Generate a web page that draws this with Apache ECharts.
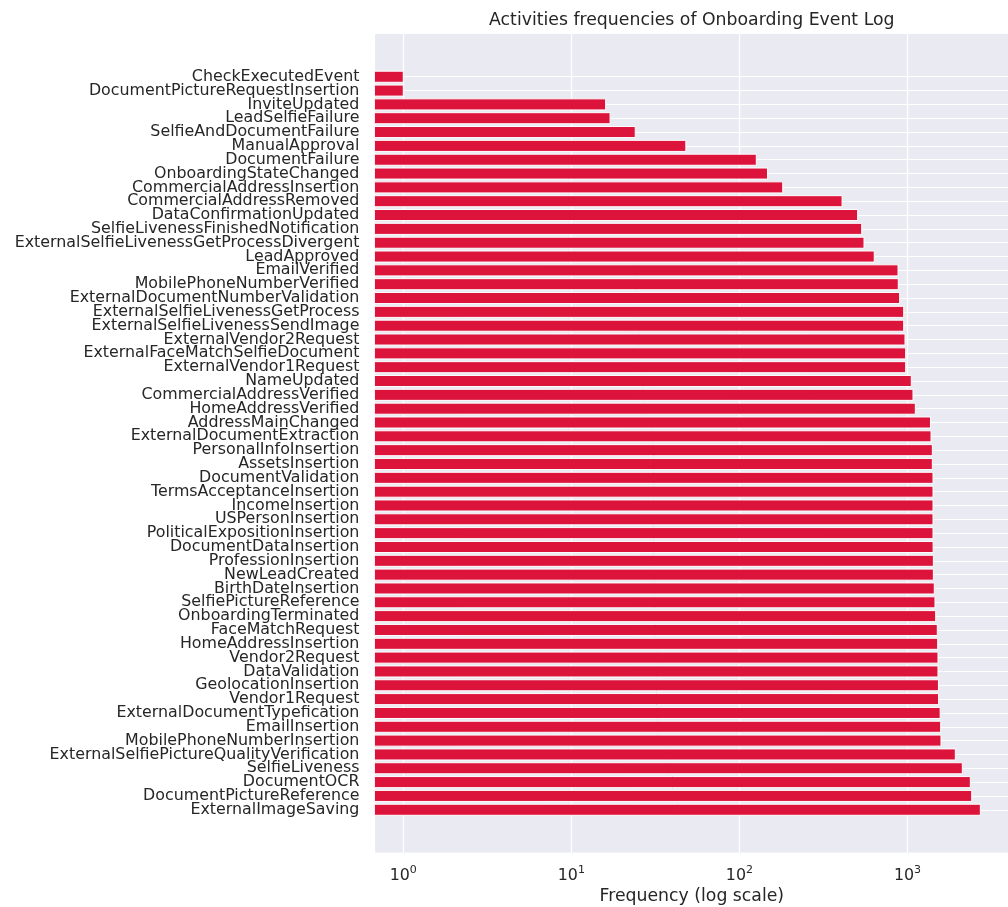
<!DOCTYPE html>
<html>
<head>
<meta charset="utf-8">
<title>Activities frequencies of Onboarding Event Log</title>
<script src="https://cdn.jsdelivr.net/npm/echarts@6/dist/echarts.min.js"></script>
<style>
  html, body { margin: 0; padding: 0; background: #ffffff; }
  #chart { width: 1008px; height: 907px; }
</style>
</head>
<body>
<div id="chart"></div>
<script>
// Activity names, top to bottom
const activities = [
  'CheckExecutedEvent', 'DocumentPictureRequestInsertion', 'InviteUpdated', 'LeadSelfieFailure',
  'SelfieAndDocumentFailure', 'ManualApproval', 'DocumentFailure', 'OnboardingStateChanged',
  'CommercialAddressInsertion', 'CommercialAddressRemoved', 'DataConfirmationUpdated',
  'SelfieLivenessFinishedNotification', 'ExternalSelfieLivenessGetProcessDivergent', 'LeadApproved',
  'EmailVerified', 'MobilePhoneNumberVerified', 'ExternalDocumentNumberValidation',
  'ExternalSelfieLivenessGetProcess', 'ExternalSelfieLivenessSendImage', 'ExternalVendor2Request',
  'ExternalFaceMatchSelfieDocument', 'ExternalVendor1Request', 'NameUpdated', 'CommercialAddressVerified',
  'HomeAddressVerified', 'AddressMainChanged', 'ExternalDocumentExtraction', 'PersonalInfoInsertion',
  'AssetsInsertion', 'DocumentValidation', 'TermsAcceptanceInsertion', 'IncomeInsertion',
  'USPersonInsertion', 'PoliticalExpositionInsertion', 'DocumentDataInsertion', 'ProfessionInsertion',
  'NewLeadCreated', 'BirthDateInsertion', 'SelfiePictureReference', 'OnboardingTerminated',
  'FaceMatchRequest', 'HomeAddressInsertion', 'Vendor2Request', 'DataValidation', 'GeolocationInsertion',
  'Vendor1Request', 'ExternalDocumentTypefication', 'EmailInsertion', 'MobilePhoneNumberInsertion',
  'ExternalSelfiePictureQualityVerification', 'SelfieLiveness', 'DocumentOCR', 'DocumentPictureReference',
  'ExternalImageSaving'
];

// Number of occurrences of each activity
const frequencies = [
  1, 1, 16, 17, 24, 48, 126, 147, 181, 408, 505, 534, 551, 634,
  878, 881, 898, 949, 949, 966, 975, 975, 1053, 1078, 1113,
  1370, 1380, 1405, 1405, 1418, 1418, 1418, 1418, 1418, 1420, 1425, 1425,
  1443, 1457, 1471, 1504, 1512, 1518, 1518, 1528, 1531,
  1564, 1575, 1582, 1925, 2118, 2364, 2410, 2712
];

const TITLE = 'Activities frequencies of Onboarding Event Log';
const X_NAME = 'Frequency (log scale)';

const FONT = "'DejaVu Sans', 'Liberation Sans', sans-serif";
const TEXT = '#262626';
const BAR = '#DC143C';
const PANEL = '#EAEAF2';

// Plot frame in pixels
const W = 1008, H = 907;
const PLOT_LEFT = 374.4, PLOT_RIGHT = 1009.2, PLOT_TOP = 34, PLOT_BOTTOM = 852.5;

// Log x range: data extent padded by 5% in log space
const logs = frequencies.map(v => Math.log10(v));
const lo = Math.min(...logs), hi = Math.max(...logs);
const X_MIN = Math.pow(10, lo - 0.05 * (hi - lo));
const X_MAX = Math.pow(10, hi + 0.05 * (hi - lo));

// Category rows: bars of height 0.8, 5% padding above and below
const n = activities.length;
const BAR_H = 0.8;
const unitSpan = (n - 1 + BAR_H) * 1.1;
const unit = (PLOT_BOTTOM - PLOT_TOP) / unitSpan;
const rowPad = (BAR_H / 2 + 0.05 * (n - 1 + BAR_H)) * unit;

const chart = echarts.init(document.getElementById('chart'), null, { renderer: 'canvas' });

const gridLine = { show: true, lineStyle: { color: '#ffffff', width: 1.2, type: 'solid' } };

chart.setOption({
  animation: false,
  backgroundColor: '#ffffff',
  textStyle: { fontFamily: FONT, color: TEXT },
  title: {
    text: TITLE,
    left: (PLOT_LEFT + PLOT_RIGHT) / 2,
    textAlign: 'center',
    top: 12,
    padding: 0,
    textStyle: { fontFamily: FONT, fontSize: 17.3, fontWeight: 'normal', color: TEXT }
  },
  grid: [
    {
      // panel with the vertical grid
      left: PLOT_LEFT, right: W - PLOT_RIGHT, top: PLOT_TOP, bottom: H - PLOT_BOTTOM,
      show: true, backgroundColor: PANEL, borderWidth: 0,
      containLabel: false, outerBoundsMode: 'none'
    },
    {
      // rows of bars
      left: PLOT_LEFT, right: W - PLOT_RIGHT, top: PLOT_TOP + rowPad, bottom: H - PLOT_BOTTOM + rowPad,
      show: false, containLabel: false, outerBoundsMode: 'none'
    }
  ],
  xAxis: [
    {
      gridIndex: 0,
      type: 'log',
      logBase: 10,
      min: X_MIN,
      max: X_MAX,
      axisLine: { show: false },
      axisTick: { show: false },
      splitLine: gridLine,
      axisLabel: {
        margin: 12,
        showMinLabel: false,
        showMaxLabel: false,
        formatter: function (v) {
          const e = Math.log10(v);
          if (Math.abs(e - Math.round(e)) > 1e-6) return '';
          return '{b|10}{s|' + Math.round(e) + '}';
        },
        rich: {
          b: { fontFamily: FONT, fontSize: 15.85, lineHeight: 22, color: TEXT },
          s: { fontFamily: FONT, fontSize: 11, lineHeight: 11, color: TEXT, verticalAlign: 'top' }
        }
      },
      name: X_NAME,
      nameLocation: 'middle',
      nameGap: 36,
      nameTextStyle: { fontFamily: FONT, fontSize: 17.3, color: TEXT }
    },
    {
      gridIndex: 1,
      type: 'log',
      logBase: 10,
      min: X_MIN,
      max: X_MAX,
      show: false,
      splitLine: { show: false }
    }
  ],
  yAxis: [
    { gridIndex: 0, type: 'value', min: 0, max: 1, show: false, splitLine: { show: false } },
    {
      gridIndex: 1,
      type: 'category',
      data: activities,
      inverse: true,
      boundaryGap: false,
      axisLine: { show: false },
      axisTick: { show: false },
      splitLine: gridLine,
      axisLabel: {
        interval: 0,
        margin: 15,
        fontFamily: FONT,
        fontSize: 15.85,
        color: TEXT,
        hideOverlap: false
      }
    }
  ],
  series: [
    {
      type: 'custom',
      xAxisIndex: 1,
      yAxisIndex: 1,
      encode: { x: 0, y: 1 },
      data: frequencies.map((v, i) => [v, activities[i]]),
      renderItem: function (params, api) {
        const cat = api.value(1);
        const end = api.coord([api.value(0), cat]);
        const start = api.coord([X_MIN, cat]);
        const h = api.size([0, 1])[1] * BAR_H;
        return {
          type: 'rect',
          shape: { x: start[0], y: end[1] - h / 2, width: end[0] - start[0], height: h },
          style: { fill: BAR, stroke: '#ffffff', lineWidth: 1 }
        };
      }
    }
  ]
});
</script>
</body>
</html>
